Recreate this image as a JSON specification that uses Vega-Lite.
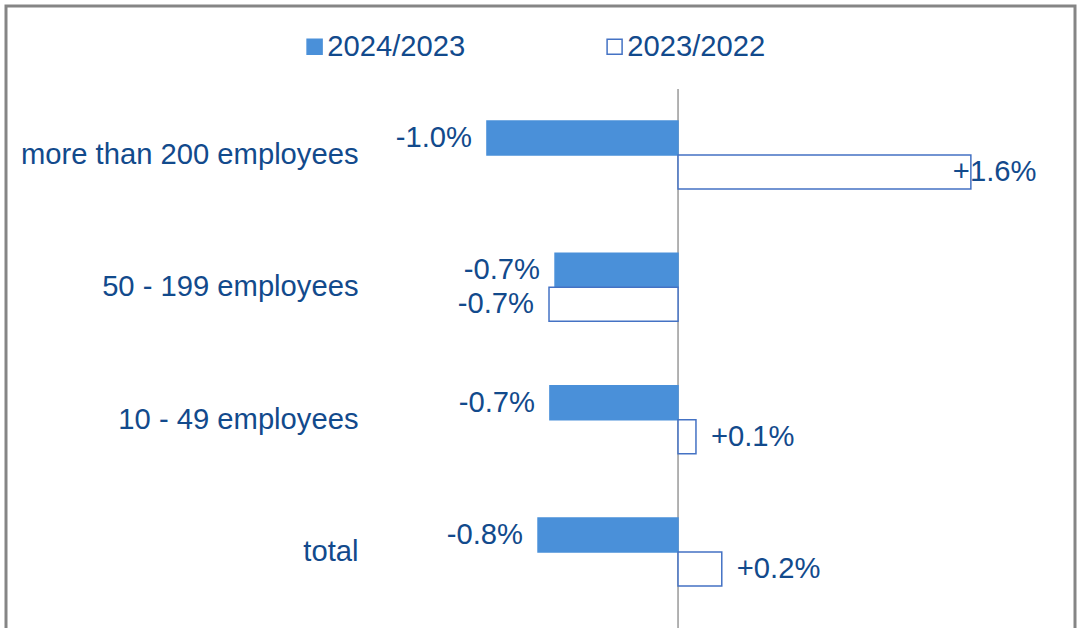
{
  "$schema": "https://vega.github.io/schema/vega-lite/v6.json",
  "width": 1069,
  "height": 640,
  "padding": {"left": 6, "top": 6, "right": 9, "bottom": 0},
  "background": "#ffffff",
  "config": {
    "view": {"stroke": "#858585", "strokeWidth": 3},
    "font": "Liberation Sans"
  },
  "data": {
    "values": [
      {"category": "more than 200 employees", "period": "2024/2023", "value": -1.044, "label": "-1.0%"},
      {"category": "more than 200 employees", "period": "2023/2022", "value": 1.6, "label": "+1.6%"},
      {"category": "50 - 199 employees", "period": "2024/2023", "value": -0.672, "label": "-0.7%"},
      {"category": "50 - 199 employees", "period": "2023/2022", "value": -0.705, "label": "-0.7%"},
      {"category": "10 - 49 employees", "period": "2024/2023", "value": -0.7, "label": "-0.7%"},
      {"category": "10 - 49 employees", "period": "2023/2022", "value": 0.098, "label": "+0.1%"},
      {"category": "total", "period": "2024/2023", "value": -0.765, "label": "-0.8%"},
      {"category": "total", "period": "2023/2022", "value": 0.239, "label": "+0.2%"}
    ]
  },
  "resolve": {"scale": {"y": "independent"}, "axis": {"y": "independent"}},
  "layer": [
    {
      "data": {"values": [{}]},
      "mark": {"type": "rule", "color": "#999999", "strokeWidth": 1.5},
      "encoding": {
        "x": {"datum": 0, "type": "quantitative", "scale": {"domain": [-3.672, 2.169], "nice": false, "zero": false}, "axis": null},
        "y": {"datum": 0, "type": "quantitative", "scale": {"domain": [0, 1], "nice": false}, "axis": null},
        "y2": {"datum": 0.8703}
      }
    },
    {
      "encoding": {
        "y": {
          "field": "category", "type": "nominal",
          "sort": ["more than 200 employees", "50 - 199 employees", "10 - 49 employees", "total"],
          "scale": {"paddingInner": 0.486, "paddingOuter": 0.6615, "align": 0.657},
          "axis": {
            "title": null, "domain": false, "ticks": false, "labelPadding": 0, "offset": -352,
            "labelFontSize": 29.2, "labelColor": "#124A8C", "labelFont": "Liberation Sans", "labelLimit": 600
          }
        },
        "yOffset": {"field": "period", "type": "nominal", "sort": ["2024/2023", "2023/2022"], "scale": {"paddingInner": 0, "paddingOuter": 0}},
        "x": {"field": "value", "type": "quantitative", "scale": {"domain": [-3.672, 2.169], "nice": false, "zero": false}, "axis": null}
      },
      "layer": [
        {
          "mark": {"type": "bar", "strokeWidth": 1.5},
          "encoding": {
            "fill": {
              "field": "period", "type": "nominal",
              "scale": {"domain": ["2024/2023", "2023/2022"], "range": ["#4A90D9", "#FFFFFF"]},
              "legend": {
                "title": null, "orient": "none", "legendX": 294, "legendY": 26, "direction": "horizontal",
                "symbolType": "square", "symbolSize": 225, "symbolStrokeWidth": 1.5,
                "labelFontSize": 29.2, "labelColor": "#124A8C", "labelFont": "Liberation Sans",
                "labelOffset": -2, "columnPadding": 134
              }
            },
            "stroke": {
              "field": "period", "type": "nominal",
              "scale": {"domain": ["2024/2023", "2023/2022"], "range": ["#4A90D9", "#4472C4"]},
              "legend": {
                "title": null, "orient": "none", "legendX": 294, "legendY": 26, "direction": "horizontal",
                "symbolType": "square", "symbolSize": 225, "symbolStrokeWidth": 1.5,
                "labelFontSize": 29.2, "labelColor": "#124A8C", "labelFont": "Liberation Sans",
                "labelOffset": -2, "columnPadding": 134
              }
            }
          }
        },
        {
          "transform": [{"filter": "datum.value < 0"}],
          "mark": {"type": "text", "align": "right", "baseline": "middle", "dx": -15, "fontSize": 29.2, "color": "#124A8C"},
          "encoding": {"text": {"field": "label"}}
        },
        {
          "transform": [{"filter": "datum.value > 0 && datum.value < 1"}],
          "mark": {"type": "text", "align": "left", "baseline": "middle", "dx": 15, "fontSize": 29.2, "color": "#124A8C"},
          "encoding": {"text": {"field": "label"}}
        },
        {
          "transform": [{"filter": "datum.value >= 1"}],
          "mark": {"type": "text", "align": "left", "baseline": "middle", "dx": -18, "fontSize": 29.2, "color": "#124A8C"},
          "encoding": {"text": {"field": "label"}}
        }
      ]
    }
  ]
}
